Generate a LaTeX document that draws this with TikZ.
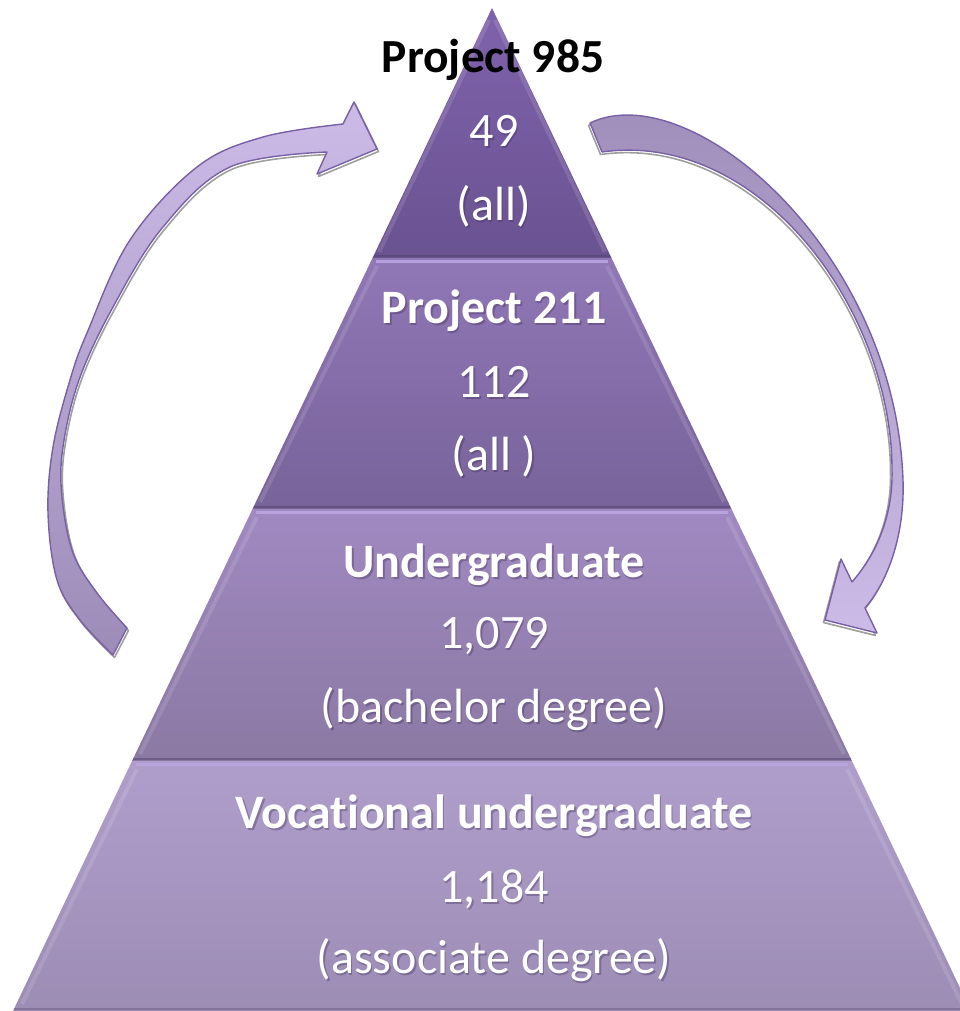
\documentclass[tikz,border=0pt]{standalone}
\usepackage{fontspec}
\setmainfont{Carlito}[Ligatures=NoCommon]
\definecolor{tAtop}{HTML}{7F62AC}
\definecolor{tAbot}{HTML}{6A5391}
\definecolor{tBtop}{HTML}{9077B6}
\definecolor{tBbot}{HTML}{78639A}
\definecolor{tCtop}{HTML}{A089C1}
\definecolor{tCbot}{HTML}{8B79A3}
\definecolor{tDtop}{HTML}{AF9ECB}
\definecolor{tDbot}{HTML}{9C8DB5}
\definecolor{hilite}{HTML}{BCA6E2}
\definecolor{darkedge}{HTML}{5C4A78}
\definecolor{arlight}{HTML}{CCBBE7}
\definecolor{ardark}{HTML}{9D8CB8}
\definecolor{arstroke}{HTML}{7760A6}
\definecolor{shadowc}{HTML}{3A2A55}
\newcommand\leftarr{plot[smooth, tension=0.6] coordinates {(113,655) (80,620) (57,580) (48,513) (53,447) (70,380) (87,333) (130,240) (197,167) (263,137) (343,124)}
  -- (354,102) -- (377,149) -- (317,174) -- (327,152)
  -- plot[smooth, tension=0.6] coordinates {(327,152) (230,167) (163,227) (113,307) (79,380) (63,447) (62,497) (73,553) (97,593) (127,628)}
  -- cycle}
\newcommand\rightarr{(590,123) .. controls (690,75) and (895,250) .. (903,480)
  .. controls (905,540) and (885,585) .. (865,608)
  -- (877,633) -- (825,620) -- (841,559) -- (852,582)
  .. controls (880,550) and (893,510) .. (892,470)
  .. controls (892,310) and (760,130) .. (602,152)
  -- cycle}
\begin{document}
\begin{tikzpicture}[x=1pt,y=-1pt,
  txt/.style={anchor=base, text=white, inner sep=0pt, font=\fontsize{48}{56}\selectfont},
  ttl/.style={txt, font=\fontsize{48}{56}\selectfont\bfseries},
  shd/.style={text=shadowc, text opacity=0.35},
  arrowshape/.style={draw=arstroke, line width=1.4pt, line join=round},
  arrowshadow/.style={draw=gray!75, line width=1.6pt, line join=round}]
\useasboundingbox (0,0) rectangle (960,1011);
\begin{scope}
\clip (0,0) rectangle (960,1011);
% tiers
\shade[top color=tAtop, bottom color=tAbot] (492,8) -- (611.5,258) -- (372.5,258) -- cycle;
\shade[top color=tBtop, bottom color=tBbot] (372.5,258) -- (611.5,258) -- (731.5,509) -- (252.5,509) -- cycle;
\shade[top color=tCtop, bottom color=tCbot] (252.5,509) -- (731.5,509) -- (852,761) -- (132,761) -- cycle;
\shade[top color=tDtop, bottom color=tDbot] (132,761) -- (852,761) -- (971,1011) -- (13,1011) -- cycle;
% bevel highlights and dark edges
\draw[hilite, line width=3pt, opacity=0.9] (376,261.5) -- (608,261.5);
\draw[hilite, line width=3pt, opacity=0.9] (256,512.5) -- (728,512.5);
\draw[hilite, line width=3pt, opacity=0.9] (136,764.5) -- (848,764.5);
\draw[darkedge, line width=2.5pt, opacity=0.8] (374,256) -- (610,256);
\draw[darkedge, line width=2.5pt, opacity=0.7] (254,507) -- (730,507);
\draw[darkedge, line width=2.5pt, opacity=0.6] (133,759) -- (851,759);
\draw[darkedge, line width=2.5pt, opacity=0.4] (14,1009) -- (960,1009);
\draw[white, line width=4pt, opacity=0.12] (489,20) -- (379,252) (495,20) -- (605,252);
\draw[white, line width=4pt, opacity=0.12] (377,266) -- (260,502) (607,266) -- (724,502);
\draw[white, line width=4pt, opacity=0.12] (257,517) -- (140,754) (727,517) -- (844,754);
\draw[white, line width=4pt, opacity=0.12] (137,769) -- (22,1004) (847,769) -- (962,1004);
\end{scope}
% arrow shadows
\begin{scope}[shift={(1.5,2.5)}]
\draw[arrowshadow] \leftarr;
\end{scope}
\begin{scope}[shift={(-1.5,2.5)}]
\draw[arrowshadow] \rightarr;
\end{scope}
% left curved arrow
\shade[arrowshape, top color=arlight, bottom color=ardark] \leftarr;
% right curved arrow
\shade[arrowshape, top color=ardark, bottom color=arlight] \rightarr;
% texts
\foreach \yy/\tt/\st [count=\i] in {
  147/49/txt, 220/(all)/txt,
  323/Project 211/ttl, 397/112/txt, 470/(all )/txt,
  577/Undergraduate/ttl, 648/{1,079}/txt, 722/(bachelor degree)/txt,
  828/Vocational undergraduate/ttl, 902/{1,184}/txt, 973/(associate degree)/txt}
  {\node[\st, shd] (s\i) at (495.5,\yy+2) {\tt};
   \node[\st] (l\i) at (494,\yy) {\tt};}
\node[ttl, text=black, font=\fontsize{47.5}{56}\selectfont\bfseries] (title) at (493,73) {Project 985};
\end{tikzpicture}
\end{document}
